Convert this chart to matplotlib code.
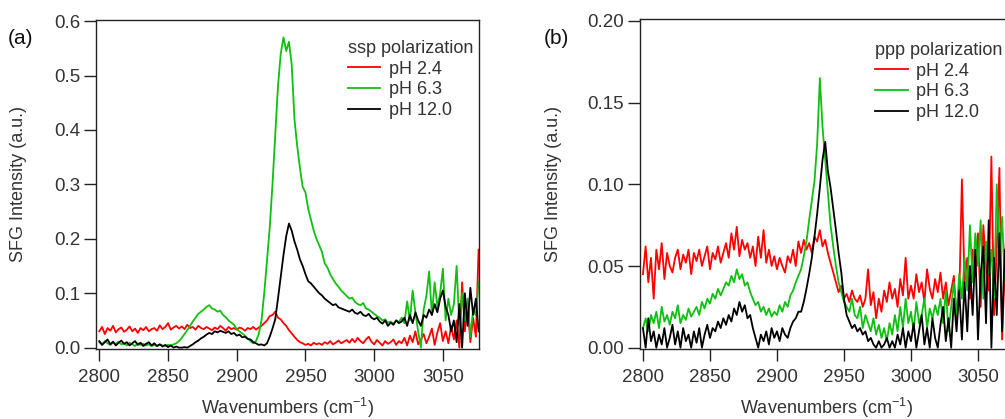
import numpy as np
import matplotlib
matplotlib.use("Agg")
import matplotlib.pyplot as plt

plt.rcParams['font.family'] = ['Liberation Sans', 'DejaVu Sans']
plt.rcParams['mathtext.fontset'] = 'custom'
plt.rcParams['mathtext.rm'] = 'Liberation Sans'
plt.rcParams['mathtext.it'] = 'Liberation Sans'
plt.rcParams['mathtext.default'] = 'regular'

# ---------------- data (wavenumber grid start / step, cm^-1) ----------------
x_start = 2800
x_step = 2

legend_labels = ["pH 2.4", "pH 6.3", "pH 12.0"]
panel_titles = ["ssp polarization", "ppp polarization"]
panel_tags = ["(a)", "(b)"]

ssp_ph24 = [
    0.030, 0.038, 0.025, 0.036, 0.031, 0.040, 0.028, 0.034, 0.037, 0.029,
    0.033, 0.039, 0.030, 0.035, 0.027, 0.036, 0.032, 0.038, 0.030, 0.034,
    0.036, 0.031, 0.041, 0.034, 0.038, 0.045, 0.033, 0.037, 0.040, 0.035,
    0.039, 0.034, 0.042, 0.036, 0.038, 0.033, 0.040, 0.036, 0.034, 0.038,
    0.035, 0.032, 0.037, 0.034, 0.040, 0.036, 0.031, 0.038, 0.034, 0.036,
    0.033, 0.037, 0.035, 0.031, 0.036, 0.034, 0.038, 0.033, 0.037, 0.040,
    0.045, 0.050, 0.058, 0.060, 0.066, 0.055, 0.052, 0.045, 0.040, 0.032,
    0.026, 0.020, 0.014, 0.010, 0.008, 0.005, 0.007, 0.004, 0.009, 0.006,
    0.008, 0.005, 0.010, 0.007, 0.012, 0.006, 0.009, 0.013, 0.008, 0.011,
    0.014, 0.009, 0.016, 0.010, 0.018, 0.012, 0.008, 0.015, 0.020, 0.011,
    0.006, 0.014, 0.009, 0.004, 0.012, 0.007, 0.010, 0.015, 0.005, 0.012,
    0.008, 0.018, 0.004, 0.022, 0.010, 0.030, 0.006, 0.015, 0.025, 0.008,
    0.020, 0.035, 0.005, 0.028, 0.045, 0.012, 0.030, 0.008, 0.040, 0.015,
    0.050, 0.000, 0.120, 0.030, 0.080, 0.010, 0.055, 0.020, 0.180,
]
ssp_ph63 = [
    0.010, 0.006, 0.012, 0.008, 0.005, 0.009, 0.007, 0.011, 0.006, 0.008,
    0.004, 0.009, 0.006, 0.003, 0.008, 0.005, 0.007, 0.004, 0.006, 0.003,
    0.005, 0.003, 0.006, 0.004, 0.003, 0.005, 0.004, 0.006, 0.008, 0.012,
    0.018, 0.025, 0.032, 0.040, 0.048, 0.055, 0.062, 0.066, 0.070, 0.075,
    0.078, 0.072, 0.070, 0.066, 0.068, 0.060, 0.056, 0.050, 0.046, 0.042,
    0.034, 0.030, 0.026, 0.022, 0.017, 0.012, 0.008, 0.012, 0.025, 0.050,
    0.100, 0.160, 0.220, 0.300, 0.390, 0.480, 0.540, 0.570, 0.545, 0.562,
    0.520, 0.420, 0.370, 0.330, 0.295, 0.285, 0.255, 0.235, 0.215, 0.200,
    0.188, 0.176, 0.155, 0.147, 0.135, 0.126, 0.118, 0.112, 0.105, 0.100,
    0.095, 0.090, 0.092, 0.084, 0.080, 0.078, 0.082, 0.072, 0.070, 0.066,
    0.062, 0.058, 0.055, 0.050, 0.052, 0.046, 0.048, 0.044, 0.050, 0.047,
    0.055, 0.045, 0.085, 0.050, 0.105, 0.065, 0.030, 0.000, 0.070, 0.095,
    0.140, 0.060, 0.120, 0.075, 0.100, 0.145, 0.050, 0.090, 0.060, 0.080,
    0.150, 0.040, 0.100, 0.050, 0.090, 0.020, 0.070, 0.060, 0.120,
]
ssp_ph120 = [
    0.012, 0.005, 0.010, 0.015, 0.006, 0.011, 0.004, 0.009, 0.013, 0.007,
    0.010, 0.004, 0.008, 0.012, 0.005, 0.009, 0.003, 0.007, 0.010, 0.004,
    0.008, 0.003, 0.006, 0.002, 0.005, 0.001, 0.004, 0.000, 0.002, 0.000,
    0.000, 0.001, 0.000, 0.003, 0.006, 0.010, 0.013, 0.017, 0.020, 0.024,
    0.027, 0.025, 0.030, 0.028, 0.031, 0.029, 0.027, 0.030, 0.025, 0.027,
    0.022, 0.024, 0.019, 0.020, 0.016, 0.015, 0.010, 0.008, 0.005, 0.006,
    0.004, 0.008, 0.020, 0.035, 0.052, 0.090, 0.130, 0.170, 0.205, 0.228,
    0.215, 0.195, 0.180, 0.162, 0.150, 0.135, 0.122, 0.118, 0.112, 0.106,
    0.100, 0.096, 0.090, 0.086, 0.082, 0.078, 0.080, 0.074, 0.072, 0.070,
    0.068, 0.066, 0.070, 0.064, 0.062, 0.066, 0.060, 0.058, 0.062, 0.055,
    0.052, 0.055, 0.048, 0.044, 0.050, 0.040, 0.046, 0.042, 0.050, 0.045,
    0.048, 0.055, 0.040, 0.060, 0.045, 0.065, 0.050, 0.040, 0.060, 0.055,
    0.070, 0.060, 0.080, 0.065, 0.090, 0.105, 0.075, 0.060, 0.030, 0.050,
    0.010, 0.080, 0.000, 0.100, 0.040, 0.110, 0.060, 0.090, 0.030,
]

ppp_ph24 = [
    0.045, 0.062, 0.040, 0.055, 0.030, 0.060, 0.048, 0.064, 0.042, 0.058,
    0.050, 0.046, 0.055, 0.060, 0.048, 0.057, 0.052, 0.060, 0.045, 0.058,
    0.053, 0.060, 0.050, 0.056, 0.062, 0.048, 0.058, 0.054, 0.062, 0.052,
    0.058, 0.064, 0.055, 0.070, 0.060, 0.074, 0.056, 0.066, 0.060, 0.064,
    0.055, 0.062, 0.050, 0.068, 0.055, 0.072, 0.052, 0.060, 0.050, 0.056,
    0.048, 0.055, 0.050, 0.046, 0.056, 0.052, 0.060, 0.050, 0.065, 0.058,
    0.066, 0.060, 0.064, 0.058, 0.068, 0.065, 0.072, 0.062, 0.066, 0.058,
    0.052, 0.046, 0.040, 0.034, 0.038, 0.030, 0.033, 0.028, 0.035, 0.030,
    0.028, 0.032, 0.025, 0.030, 0.048, 0.026, 0.034, 0.018, 0.030, 0.022,
    0.035, 0.028, 0.040, 0.030, 0.036, 0.025, 0.042, 0.032, 0.055, 0.030,
    0.038, 0.030, 0.045, 0.034, 0.040, 0.028, 0.048, 0.036, 0.030, 0.042,
    0.034, 0.046, 0.030, 0.040, 0.026, 0.035, 0.044, 0.018, 0.030, 0.103,
    0.040, 0.055, 0.030, 0.060, 0.045, 0.070, 0.025, 0.075, 0.050, 0.035,
    0.117, 0.020, 0.060, 0.110, 0.005, 0.050, 0.090, 0.030, 0.070,
]
ppp_ph63 = [
    0.012, 0.018, 0.010, 0.020, 0.015, 0.022, 0.012, 0.025, 0.016, 0.020,
    0.014, 0.022, 0.018, 0.026, 0.015, 0.020, 0.017, 0.024, 0.019, 0.022,
    0.025, 0.020, 0.028, 0.024, 0.030, 0.027, 0.033, 0.030, 0.036, 0.032,
    0.036, 0.040, 0.038, 0.044, 0.040, 0.048, 0.042, 0.045, 0.038, 0.040,
    0.034, 0.030, 0.026, 0.028, 0.022, 0.025, 0.020, 0.024, 0.019, 0.022,
    0.020, 0.026, 0.022, 0.028, 0.025, 0.032, 0.035, 0.040, 0.044, 0.048,
    0.056, 0.065, 0.078, 0.090, 0.102, 0.125, 0.165, 0.135, 0.115, 0.095,
    0.075, 0.062, 0.050, 0.040, 0.034, 0.028, 0.025, 0.022, 0.030, 0.020,
    0.018, 0.025, 0.012, 0.020, 0.015, 0.010, 0.018, 0.008, 0.014, 0.006,
    0.012, 0.004, 0.015, 0.008, 0.020, 0.010, 0.025, 0.012, 0.030, 0.015,
    0.022, 0.010, 0.028, 0.015, 0.020, 0.030, 0.012, 0.024, 0.018, 0.026,
    0.020, 0.030, 0.015, 0.035, 0.010, 0.025, 0.040, 0.020, 0.045, 0.030,
    0.055, 0.035, 0.075, 0.040, 0.070, 0.050, 0.078, 0.030, 0.065, 0.045,
    0.060, 0.030, 0.100, 0.055, 0.080, 0.040, 0.090, 0.060, 0.100,
]
ppp_ph120 = [
    0.012, 0.000, 0.018, 0.004, 0.010, 0.000, 0.008, 0.002, 0.012, 0.000,
    0.006, 0.014, 0.002, 0.010, 0.000, 0.012, 0.004, 0.008, 0.000, 0.010,
    0.003, 0.012, 0.000, 0.008, 0.014, 0.006, 0.012, 0.010, 0.016, 0.012,
    0.018, 0.014, 0.020, 0.016, 0.024, 0.020, 0.028, 0.022, 0.026, 0.018,
    0.020, 0.012, 0.006, 0.000, 0.008, 0.004, 0.010, 0.002, 0.012, 0.006,
    0.010, 0.004, 0.012, 0.008, 0.006, 0.012, 0.016, 0.018, 0.022, 0.022,
    0.028, 0.036, 0.045, 0.055, 0.068, 0.082, 0.098, 0.115, 0.126, 0.108,
    0.098, 0.085, 0.072, 0.058, 0.046, 0.030, 0.020, 0.016, 0.012, 0.014,
    0.010, 0.012, 0.008, 0.010, 0.004, 0.006, 0.002, 0.000, 0.004, 0.000,
    0.002, 0.006, 0.000, 0.004, 0.000, 0.008, 0.002, 0.012, 0.000, 0.010,
    0.004, 0.015, 0.000, 0.010, 0.020, 0.002, 0.012, 0.000, 0.018, 0.006,
    0.000, 0.014, 0.025, 0.004, 0.018, 0.000, 0.030, 0.010, 0.035, 0.005,
    0.040, 0.010, 0.050, 0.020, 0.060, 0.005, 0.045, 0.062, 0.015, 0.078,
    0.000, 0.055, 0.020, 0.070, 0.010, 0.060, 0.030, 0.075, 0.040,
]

panel_series = [[ssp_ph24, ssp_ph63, ssp_ph120], [ppp_ph24, ppp_ph63, ppp_ph120]]
yticks_list = [[0.0, 0.1, 0.2, 0.3, 0.4, 0.5, 0.6], [0.00, 0.05, 0.10, 0.15, 0.20]]
ytick_fmt = ["{:.1f}", "{:.2f}"]
ylims = [(-0.0025, 0.602), (-0.0008, 0.2012)]
xticks = [2800, 2850, 2900, 2950, 3000, 3050]

colors = ["#ff0000", "#10c010", "#000000"]
text_color = "#333333"

W, H = 1005, 419
fig = plt.figure(figsize=(W / 100, H / 100), dpi=100)

# axes boxes in pixels: left, top, right, bottom
boxes = [(96.3, 20, 479.3, 349), (640, 19, 1013.5, 349)]
ylabel_x = [-0.18, -0.209]
tag_pos = [(20, 38), (556, 38)]
legend_anchor = [(348, 40), (875, 42)]

for k in range(2):
    l, t, r, b = boxes[k]
    ax = fig.add_axes([l / W, 1 - b / H, (r - l) / W, (b - t) / H])
    for vals, c, lab in zip(panel_series[k], colors, legend_labels):
        xs = x_start + x_step * np.arange(len(vals))
        ax.plot(xs, vals, color=c, lw=1.3, label=lab)
    ax.set_xlim(2797.8, 3076.5)
    ax.set_ylim(*ylims[k])
    ax.set_xticks(xticks)
    ax.set_yticks(yticks_list[k])
    ax.set_yticklabels([ytick_fmt[k].format(v) for v in yticks_list[k]])
    ax.tick_params(direction='out', length=8.5, width=1.0, labelsize=13.5,
                   colors='#222222', labelcolor=text_color)
    ax.tick_params(axis='x', pad=6)
    ax.tick_params(axis='y', pad=3)
    for s in ax.spines.values():
        s.set_linewidth(1.0)
        s.set_color('#222222')
    ax.set_xlabel("Wavenumbers (cm$^{-1}$)", fontsize=13, color=text_color)
    ax.xaxis.set_label_coords(0.5, -0.143)
    ax.set_ylabel("SFG Intensity (a.u.)", fontsize=13, color=text_color)
    ax.yaxis.set_label_coords(ylabel_x[k], 0.5)
    ax_w = r - l
    ax_h = b - t
    ax_x, ax_y = legend_anchor[k]
    leg = ax.legend(loc='upper left',
                    bbox_to_anchor=((ax_x - l) / ax_w, (b - ax_y) / ax_h),
                    frameon=False, fontsize=13, title=panel_titles[k],
                    title_fontsize=13, alignment='left', borderpad=0,
                    borderaxespad=0, handlelength=1.8, handletextpad=0.45,
                    labelspacing=0.2)
    for txt in leg.get_texts():
        txt.set_color(text_color)
    leg.get_title().set_color(text_color)
    fig.text(tag_pos[k][0] / W, 1 - tag_pos[k][1] / H, panel_tags[k],
             fontsize=15, color='#111111', ha='center', va='center')

fig.savefig("out.png", dpi=100)
